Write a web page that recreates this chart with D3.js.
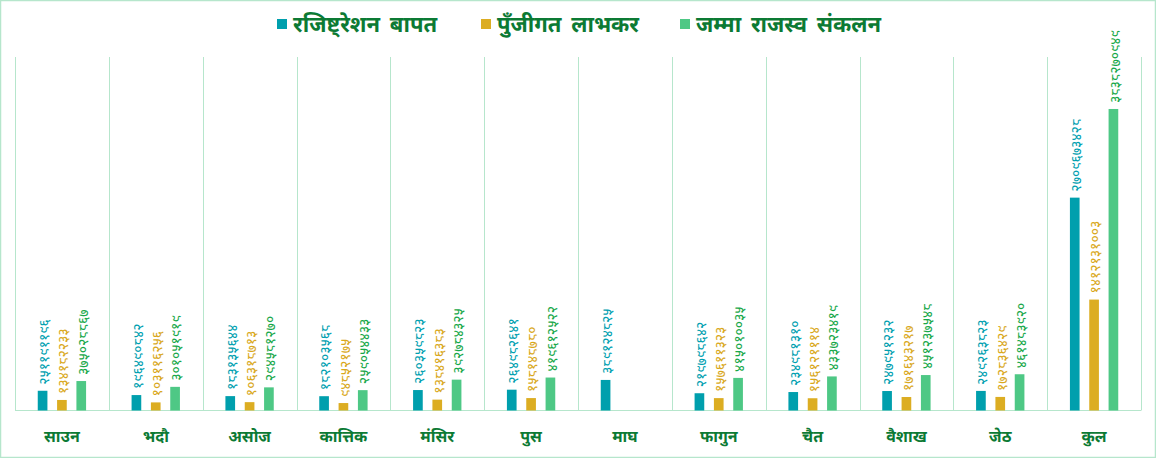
<!DOCTYPE html>
<html lang="ne">
  <head>
    <meta charset="UTF-8" />
    <title>Revenue Grouped Bar Chart</title>
    <script src="https://cdn.jsdelivr.net/npm/d3@7"></script>
    <style>
      body {
        margin: 0;
        background-color: #ffffff;
      }
      #main-div svg {
        display: block;
      }
    </style>
  </head>
  <body>
    <div id="main-div"></div>
    <script>
      // data
      let months = ["साउन", "भदौ", "असोज", "कात्तिक", "मंसिर", "पुस", "माघ", "फागुन", "चैत", "वैशाख", "जेठ", "कुल"];
      let seriesNames = ["रजिष्ट्रेशन बापत", "पुँजीगत लाभकर", "जम्मा राजस्व संकलन"];
      let registration = [251191196, 196490842, 183135644, 182103568, 260359823, 264982641, 389124825, 219798642, 234981310, 247951232, 249263823, 2709673428];
      let capitalGains = [134182233, 103116256, 106318713, 94852175, 138416383, 158148780, null, 157611323, 156121114, 171643217, 172836429, 1412131003];
      let totalRevenue = [375028867, 301051919, 294581270, 259054433, 392784325, 419612522, null, 415010035, 433723419, 451237548, 461483920, 3838270949];
      let yMax = 4500000000;

      let barColors = ["#009fad", "#dcad22", "#4ec885"];
      let labelColors = ["#00a0b0", "#d9a81c", "#18a84a"];
      let textGreen = "#0c7a34";
      let gridColor = "#b6e6cc";
      let devFont = "'Noto Sans Devanagari', 'Lohit Devanagari', Mangal, 'Noto Sans', sans-serif";

      let width = 1156;
      let height = 458;
      let plotLeft = 15;
      let plotRight = 1141;
      let plotTop = 57;
      let plotBottom = 410.5;

      let toNepali = (n) => String(n).replace(/[0-9]/g, (c) => "०१२३४५६७८९"[+c]);

      let dataset = months.map((m, i) => ({
        month: m,
        values: [registration[i], capitalGains[i], totalRevenue[i]],
      }));

      let svg = d3
        .select("#main-div")
        .append("svg")
        .attr("width", width)
        .attr("height", height)
        .style("background-color", "#ffffff");

      // outer border
      svg
        .append("rect")
        .attr("x", 0.5)
        .attr("y", 0.5)
        .attr("width", width - 1)
        .attr("height", height - 1)
        .attr("fill", "none")
        .attr("stroke", gridColor)
        .attr("stroke-width", 1.5);

      let x0 = d3.scaleBand().domain(months).range([plotLeft, plotRight]).padding(0);
      let cx = x0.bandwidth() / 2;
      let x1 = d3
        .scaleBand()
        .domain([0, 1, 2])
        .range([cx - 29, cx + 29])
        .paddingInner(0.5)
        .paddingOuter(0.25);
      let y = d3.scaleLinear().domain([0, yMax]).range([plotBottom, plotTop]);

      // vertical separators between months
      svg
        .append("g")
        .selectAll("line")
        .data(months.concat(["end"]))
        .join("line")
        .attr("x1", (d, i) => Math.round(i < months.length ? x0(d) : plotRight) + 0.5)
        .attr("x2", (d, i) => Math.round(i < months.length ? x0(d) : plotRight) + 0.5)
        .attr("y1", plotTop)
        .attr("y2", plotBottom)
        .attr("stroke", gridColor)
        .attr("stroke-width", 1);

      // baseline axis with month labels
      let xAxis = svg
        .append("g")
        .attr("transform", "translate(0," + plotBottom + ")")
        .call(d3.axisBottom(x0).tickSize(0).tickPadding(20));
      xAxis.select(".domain").attr("stroke", gridColor).attr("d", "M" + plotLeft + ",0H" + plotRight);
      xAxis
        .selectAll("text")
        .attr("fill", textGreen)
        .attr("font-family", devFont)
        .attr("font-size", "16px")
        .attr("font-weight", "bold");

      let groups = svg
        .append("g")
        .selectAll("g")
        .data(dataset)
        .join("g")
        .attr("transform", (d) => "translate(" + x0(d.month) + ",0)");

      let cells = groups
        .selectAll("g")
        .data((d) => d.values.map((v, k) => ({ v: v, k: k })).filter((e) => e.v != null))
        .join("g");

      cells
        .append("rect")
        .attr("x", (d) => x1(d.k))
        .attr("width", x1.bandwidth())
        .attr("y", (d) => y(d.v))
        .attr("height", (d) => plotBottom - y(d.v))
        .attr("fill", (d) => barColors[d.k]);

      // vertical value labels above each bar
      cells
        .append("text")
        .attr("transform", (d) => "translate(" + (x1(d.k) + x1.bandwidth() / 2) + "," + (y(d.v) - 6) + ") rotate(-90)")
        .attr("dy", "0.45em")
        .attr("text-anchor", "start")
        .attr("font-family", devFont)
        .attr("font-size", "14px")
        .attr("fill", (d) => labelColors[d.k])
        .text((d) => toNepali(d.v));

      // legend
      let legendX = [277, 481, 680];
      let legend = svg
        .append("g")
        .selectAll("g")
        .data(seriesNames)
        .join("g")
        .attr("transform", (d, i) => "translate(" + legendX[i] + ",19)");
      legend
        .append("rect")
        .attr("width", 10)
        .attr("height", 10)
        .attr("fill", (d, i) => barColors[i]);
      legend
        .append("text")
        .attr("x", 16)
        .attr("y", 10)
        .attr("dy", "0.12em")
        .attr("font-family", devFont)
        .attr("font-size", "22px")
        .attr("font-weight", "bold")
        .attr("word-spacing", "4px")
        .attr("fill", textGreen)
        .text((d) => d);
    </script>
  </body>
</html>
